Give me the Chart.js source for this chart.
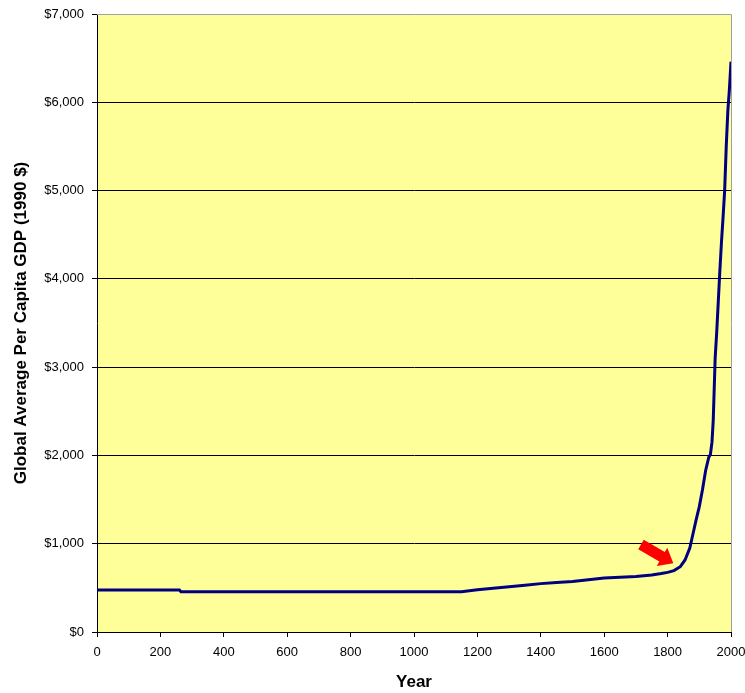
<!DOCTYPE html>
<html>
<head>
<meta charset="utf-8">
<script src="https://cdn.jsdelivr.net/npm/chart.js@4.4.0/dist/chart.umd.min.js"></script>
<style>
  html, body { margin: 0; padding: 0; background: #ffffff; }
  #wrap { width: 745px; height: 693px; }
</style>
</head>
<body>
<div id="wrap"><canvas id="gdpChart" width="745" height="693"></canvas></div>
<script>
// World GDP per capita over two millennia (1990 dollars)
const years = [0, 260, 265, 1150, 1200, 1250, 1300, 1350, 1400, 1450, 1500, 1550, 1600, 1650,
  1700, 1750, 1780, 1800, 1820, 1840, 1855, 1870, 1880, 1890, 1900, 1910, 1920, 1930, 1935,
  1940, 1944, 1950, 1955, 1960, 1965, 1970, 1975, 1980, 1985, 1990, 1995, 2000];
const gdpPerCapita = [476, 476, 455, 455, 478, 495, 512, 530, 548, 562, 572, 592, 612, 620,
  628, 645, 662, 675, 695, 740, 816, 950, 1110, 1270, 1420, 1610, 1830, 1980, 2010,
  2150, 2400, 3100, 3400, 3750, 4100, 4420, 4700, 5000, 5500, 5900, 6150, 6460];

const xRange = [0, 2000];
const xStep = 200;
const yRange = [0, 7000];
const yStep = 1000;

// Red callout arrow marking the take-off point (year, dollars)
const arrowTail = { year: 1716, value: 990 };
const arrowTip = { year: 1818, value: 778 };

const FONT = "'Liberation Sans', Arial, sans-serif";
Chart.defaults.font.family = FONT;

const plotDecor = {
  id: 'plotDecor',
  beforeDraw(chart) {
    const { ctx, chartArea: a } = chart;
    ctx.save();
    ctx.fillStyle = '#FFFF99';
    ctx.fillRect(a.left, a.top, a.right - a.left, a.bottom - a.top);
    ctx.restore();
  },
  beforeDatasetsDraw(chart) {
    const { ctx, chartArea: a } = chart;
    ctx.save();
    ctx.strokeStyle = '#A0A0A0';
    ctx.lineWidth = 1;
    ctx.beginPath();
    ctx.moveTo(a.left, a.top + 0.5);
    ctx.lineTo(a.right + 0.5, a.top + 0.5);
    ctx.lineTo(a.right + 0.5, a.bottom);
    ctx.stroke();
    ctx.restore();
  },
  afterDatasetsDraw(chart) {
    const { ctx, scales } = chart;
    const x0 = scales.x.getPixelForValue(arrowTail.year);
    const y0 = scales.y.getPixelForValue(arrowTail.value);
    const x1 = scales.x.getPixelForValue(arrowTip.year);
    const y1 = scales.y.getPixelForValue(arrowTip.value);
    const len = Math.hypot(x1 - x0, y1 - y0);
    const shaftHalf = 5.5, headHalf = 10.5, headLen = 13;
    ctx.save();
    ctx.translate(x0, y0);
    ctx.rotate(Math.atan2(y1 - y0, x1 - x0));
    ctx.fillStyle = '#FF0000';
    ctx.beginPath();
    ctx.moveTo(0, -shaftHalf);
    ctx.lineTo(len - headLen, -shaftHalf);
    ctx.lineTo(len - headLen, -headHalf);
    ctx.lineTo(len, 0);
    ctx.lineTo(len - headLen, headHalf);
    ctx.lineTo(len - headLen, shaftHalf);
    ctx.lineTo(0, shaftHalf);
    ctx.closePath();
    ctx.fill();
    ctx.restore();
  }
};

new Chart(document.getElementById('gdpChart'), {
  type: 'line',
  data: {
    datasets: [{
      data: years.map((yr, i) => ({ x: yr, y: gdpPerCapita[i] })),
      borderColor: '#000080',
      borderWidth: 3,
      pointRadius: 0,
      tension: 0,
      fill: false
    }]
  },
  options: {
    responsive: false,
    animation: false,
    devicePixelRatio: 1,
    layout: { padding: { left: 0, top: 14, right: 14, bottom: 0 } },
    plugins: { legend: { display: false }, tooltip: { enabled: false } },
    scales: {
      x: {
        type: 'linear',
        min: xRange[0],
        max: xRange[1],
        ticks: {
          stepSize: xStep,
          color: '#000',
          font: { size: 13 },
          padding: 8,
          maxRotation: 0,
          autoSkip: false,
          callback: v => String(v)
        },
        grid: { drawOnChartArea: false, tickLength: 5, tickColor: '#000', tickWidth: 1 },
        border: { color: '#000', width: 1 },
        title: { display: true, text: 'Year', color: '#000', font: { size: 17, weight: 'bold' }, padding: 0 },
        afterFit(s) { s.height = 61; s.paddingLeft = 0; s.paddingRight = 0; }
      },
      y: {
        min: yRange[0],
        max: yRange[1],
        ticks: {
          stepSize: yStep,
          color: '#000',
          font: { size: 13 },
          padding: 8,
          callback: v => '$' + Number(v).toLocaleString('en-US')
        },
        grid: {
          color: ctx => (ctx.tick && ctx.tick.value === yRange[1]) ? 'rgba(0,0,0,0)' : '#000',
          lineWidth: 1,
          tickLength: 5,
          tickColor: '#000'
        },
        border: { color: '#000', width: 1 },
        title: {
          display: true,
          text: 'Global Average Per Capita GDP (1990 $)',
          color: '#000',
          font: { size: 17, weight: 'bold' },
          padding: { top: 11, bottom: 0 }
        },
        afterFit(s) { s.width = 97; s.paddingTop = 0; s.paddingBottom = 0; }
      }
    }
  },
  plugins: [plotDecor]
});
</script>
</body>
</html>
